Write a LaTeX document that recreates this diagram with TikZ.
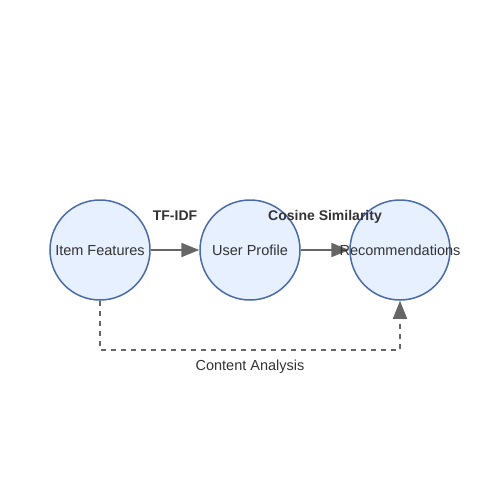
\documentclass[tikz,border=0pt]{standalone}
\usepackage{fontspec}
\setmainfont{Liberation Sans}
\usetikzlibrary{arrows.meta}
\definecolor{nodefill}{HTML}{E6F0FF}
\definecolor{nodestroke}{HTML}{4A6BA8}
\definecolor{edgecol}{HTML}{666666}
\definecolor{txt}{HTML}{333333}
\begin{document}
\begin{tikzpicture}[x=1pt,y=-1pt,
  circ/.style={circle,draw=nodestroke,fill=nodefill,line width=1.5pt,minimum size=100pt,inner sep=0pt},
  ctext/.style={text=txt,font=\fontsize{14.5}{17}\selectfont,inner sep=0pt,anchor=base},
  elabel/.style={text=txt,font=\fontsize{14}{17}\selectfont\bfseries,inner sep=0pt,anchor=base},
  dlabel/.style={text=txt,font=\fontsize{14.5}{17}\selectfont,inner sep=0pt,anchor=base},
  flow/.style={draw=edgecol,line width=2pt,-{Triangle[length=18pt,width=14pt]}},
  dflow/.style={draw=edgecol,line width=1.5pt,dash pattern=on 5pt off 5pt,-{Triangle[length=18pt,width=14pt]}}]
\useasboundingbox (0,0) rectangle (500,500);
\node[circ] (a) at (100,250) {};
\node[circ] (b) at (250,250) {};
\node[circ] (c) at (400,250) {};
\draw[flow] (a) -- (b);
\draw[flow] (b) -- (c);
\coordinate (d1) at (100,350);
\coordinate (d2) at (400,350);
\draw[dflow] (a.south) -- (d1) -- (d2) -- (c.south);
\node[ctext] (ta) at (100,255) {Item Features};
\node[ctext] (tb) at (250,255) {User Profile};
\node[ctext] (tc) at (400,255) {Recommendations};
\node[elabel] (l1) at (175,220) {TF-IDF};
\node[elabel] (l2) at (325,220) {Cosine Similarity};
\node[dlabel] (l3) at (250,370) {Content Analysis};
\end{tikzpicture}
\end{document}
